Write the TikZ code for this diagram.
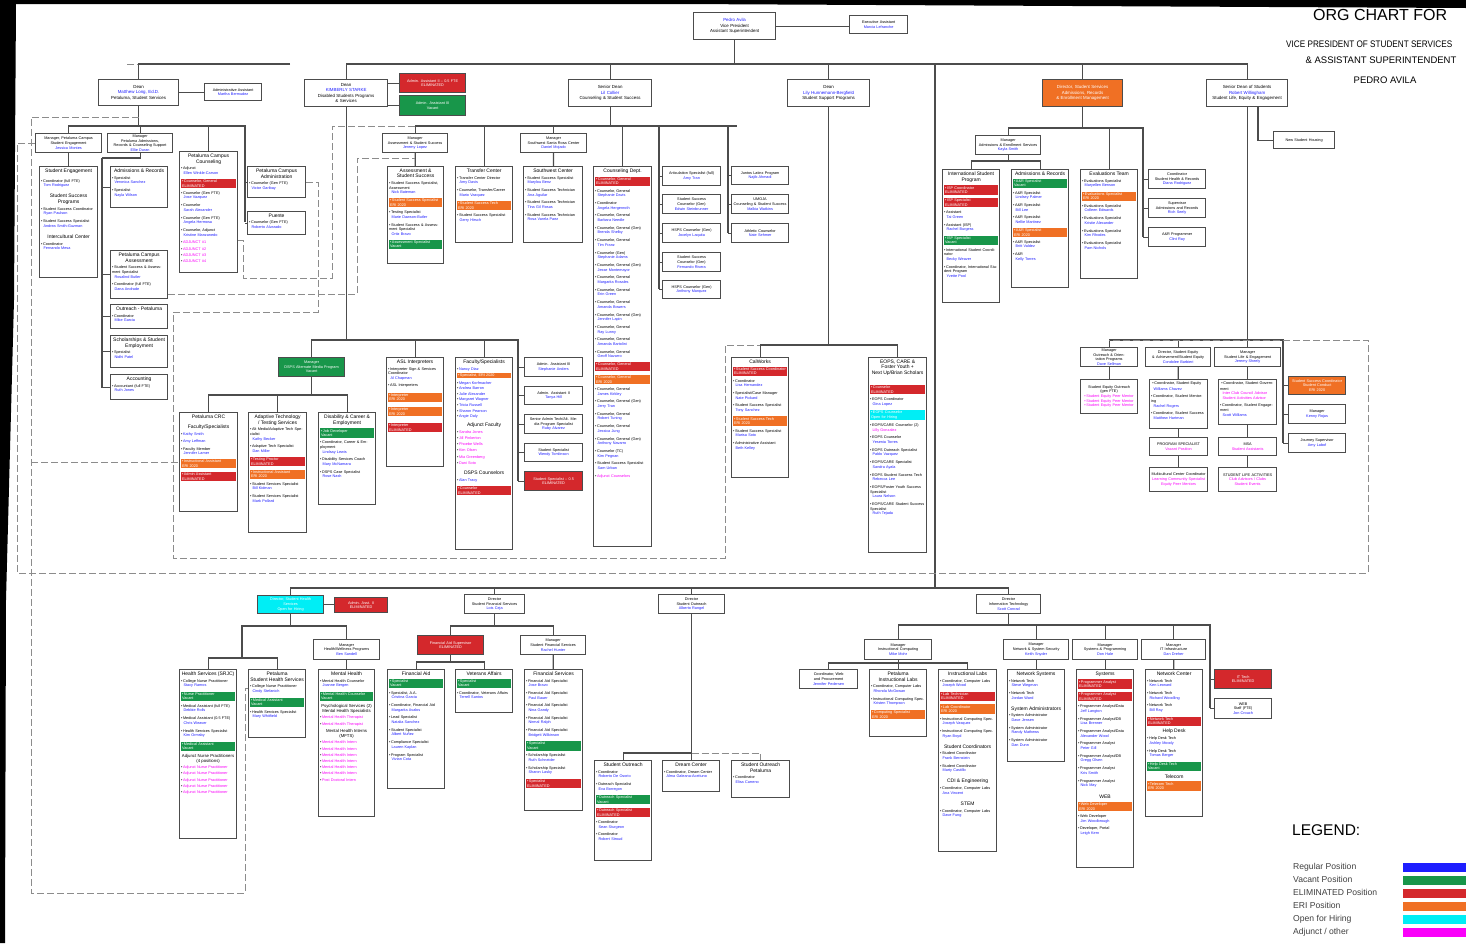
\documentclass[tikz,border=0pt]{standalone}
\usepackage{fontspec}
\setmainfont{Liberation Sans}
\usepackage{xcolor}
\usepackage{graphicx}
\definecolor{nblue}{RGB}{30,30,255}
\definecolor{cred}{RGB}{212,40,44}
\definecolor{cgreen}{RGB}{24,150,74}
\definecolor{corange}{RGB}{240,112,36}
\definecolor{ccyan}{RGB}{0,238,245}
\definecolor{cmag}{RGB}{250,0,250}

\newcommand\nm[1]{{\color{nblue}#1}}
\newcommand\mg[1]{{\color{cmag}#1}}
\newcommand\ttl[1]{{\centering\fontsize{5}{5.8}\selectfont #1\par}\vspace{2.2pt}}
\newcommand\subttl[1]{{\centering\fontsize{4.3}{5}\selectfont #1\par}\vspace{1.6pt}}
\newcommand\itm[2]{\textbullet\,#1\\\hspace*{2.5pt}\nm{#2}\par\vspace{3.2pt}}
\newcommand\adjl[1]{\textbullet\,\mg{#1}\par\vspace{1.6pt}}
\newcommand\cstrip[2]{{\setlength\fboxsep{0.9pt}\colorbox{#1}{\parbox{\dimexpr\linewidth-1.8pt\relax}{\color{white}\textbullet\,#2}}\par}\vspace{2.6pt}}

% box with centred text, corners in pixels
\newcommand\orgbox[7][]{%
  \pgfmathsetmacro\bw{#5-#3}\pgfmathsetmacro\bh{#6-#4}\pgfmathsetmacro\tw{#5-#3-3}%
  \node[box,#1,minimum width=\bw pt,minimum height=\bh pt,text width=\tw pt,align=center] (#2) at (#3,#4) {#7};}
% box with a list, text from the top
\newcommand\listbox[7][]{%
  \pgfmathsetmacro\bw{#5-#3}\pgfmathsetmacro\bh{#6-#4}\pgfmathsetmacro\tw{#5-#3-3}%
  \node[box,#1,minimum width=\bw pt,minimum height=\bh pt] (#2) at (#3,#4) {};
  \node[listtext,text width=\tw pt] (#2-t) at (#2.north) {#7};}

\begin{document}
\begin{tikzpicture}[x=1pt,y=-1pt,
  box/.style={draw=black!70, line width=1.2pt, fill=white, inner sep=0pt, anchor=north west,
    font=\fontsize{3.8}{4.6}\selectfont},
  listtext/.style={anchor=north, inner xsep=0pt, inner ysep=2.5pt, align=left,
    font=\fontsize{3.8}{4.6}\selectfont},
  link/.style={draw=black!70, line width=1.2pt},
  dlink/.style={draw=black!45, line width=0.8pt, dash pattern=on 7pt off 3pt},
  red/.style={fill=cred, text=white},
  green/.style={fill=cgreen, text=white},
  orange/.style={fill=corange, text=white},
  cyan/.style={fill=ccyan, text=white},
  head/.style={font=\fontsize{4.4}{5.6}\selectfont}]
\useasboundingbox (0,0) rectangle (1466,943);
\fill[white] (0,0) rectangle (1466,943);
\fill[black] (0,0) -- (1466,0) -- (1466,8) -- (680,4) -- (16,4) -- (14,300) -- (6,600) -- (5,943) -- (0,943) -- cycle;

% title and legend
\node[anchor=north west, inner sep=0pt, font=\fontsize{16}{16}\selectfont] (title) at (1313,9) {ORG CHART FOR};
\node[anchor=north west, inner sep=0pt, font=\fontsize{9.5}{9.5}\selectfont] (sub1) at (1286,41) {\scalebox{0.86}[1]{VICE PRESIDENT OF STUDENT SERVICES}};
\node[anchor=north, inner sep=0pt, font=\fontsize{9.5}{9.5}\selectfont] (sub2) at (1381,57) {\& ASSISTANT SUPERINTENDENT};
\node[anchor=north, inner sep=0pt, font=\fontsize{9.5}{9.5}\selectfont] (sub3) at (1385,77) {PEDRO AVILA};
\node[anchor=north west, inner sep=0pt, font=\fontsize{15.5}{15.5}\selectfont] (legend) at (1292,824) {LEGEND:};
\foreach \t/\c/\y [count=\i] in {Regular Position/nblue/863, Vacant Position/cgreen/876,
    ELIMINATED Position/cred/889, ERI Position/corange/902, Open for Hiring/ccyan/915, {Adjunct / other}/cmag/928} {
  \node[anchor=north west, inner sep=0pt, font=\fontsize{8.6}{8.6}\selectfont, text=black!75] (lt\i) at (1293,\y) {\t};
  \node[anchor=north west, inner sep=0pt, fill=\c, minimum width=64pt, minimum height=8.5pt] (lg\i) at (1403,\y) {};
}

% top
\orgbox[head]{vp}{693}{12}{775}{39}{\nm{Pedro Avila}\\Vice President\\Assistant Superintendent}
\orgbox{exec}{849}{15}{907}{33}{Executive Assistant\\\nm{Marcia Lefranche}}
\orgbox[head]{dpet}{98}{79}{178}{105}{Dean\\\nm{Matthew Long, Ed.D.}\\Petaluma, Student Services}
\orgbox{dpetaa}{204}{83}{261}{100}{Administrative Assistant\\\nm{Martha Bermudez}}
\orgbox[head]{dsps}{304}{79}{387}{106}{Dean\\\nm{KIMBERLY STARKE}\\Disabled Students Programs\\\& Services}
\orgbox[red]{dspsr}{399}{73}{465}{92}{Admin. Assistant II -- 0.5 FTE\\ELIMINATED}
\orgbox[green]{dspsg}{399}{95}{465}{115}{Admin. Assistant III\\Vacant}
\orgbox[head]{sdean}{568}{79}{651}{106}{Senior Dean\\\nm{Lil Collier}\\Counseling \& Student Success}
\orgbox[head]{dssp}{787}{79}{869}{106}{Dean\\\nm{Lily Hunnemann-Bergfield}\\Student Support Programs}
\orgbox[orange,head]{dirar}{1042}{79}{1122}{106}{Director, Student Services\\Admissions, Records\\\& Enrollment Management}
\orgbox[head]{sdos}{1206}{79}{1287}{106}{Senior Dean of Students\\\nm{Robert Willingham}\\Student Life, Equity \& Engagement}
\orgbox{nsh}{1273}{131}{1334}{148}{New Student Housing}

% Petaluma
\orgbox{mse}{35}{133}{101}{152}{Manager, Petaluma Campus\\Student Engagement\\\nm{Jessica Montes}}
\orgbox{mpar}{107}{133}{172}{152}{Manager\\Petaluma Admissions, Records \& Counseling Support\\\nm{Ellie Duran}}
\listbox{pse}{39}{166}{97}{277}{\ttl{Student Engagement}\vspace{3pt}
  \itm{Coordinator (full FTE)}{Tom Rodriguez}\vspace{2pt}
  \ttl{Student Success\\Programs}
  \itm{Student Success Coordinator}{Ryan Paulson}
  \itm{Student Success Specialist}{Andrea Smith-Guzman}\vspace{2pt}
  \ttl{Intercultural Center}
  \itm{Coordinator}{Fernando Mesa}}
\listbox{par}{110}{166}{167}{207}{\ttl{Admissions \& Records}
  \itm{Specialist}{Veronica Sanchez}
  \itm{Specialist}{Nayla Wilson}}
\listbox{pca}{110}{250}{167}{298}{\ttl{Petaluma Campus\\Assessment}
  \itm{Student Success \& Assessment Specialist}{Rosalind Butler}
  \itm{Coordinator (full FTE)}{Dana Andrade}}
\listbox{pop}{110}{304}{167}{328}{\ttl{Outreach - Petaluma}
  \itm{Coordinator}{Mike Garcia}}
\listbox{psc}{110}{335}{167}{367}{\ttl{Scholarships \& Student Employment}
  \itm{Specialist}{Nidhi Patel}}
\listbox{pacc}{110}{374}{167}{399}{\ttl{Accounting}
  \itm{Accountant (full FTE)}{Ruth Jones}}
\listbox{pcc}{179}{151}{237}{272}{\ttl{Petaluma Campus\\Counseling}
  \itm{Adjunct}{Ellen Winkle-Carson}
  \cstrip{cred}{Counselor, General\\ELIMINATED}
  \itm{Counselor (Gen FTE)}{Jose Vazquez}
  \itm{Counselor}{Sarah Alexander}
  \itm{Counselor (Gen FTE)}{Angela Hermosa}
  \itm{Counselor, Adjunct}{Kristine Manzanedo}
  \adjl{ADJUNCT \#1}\adjl{ADJUNCT \#2}\adjl{ADJUNCT \#3}\adjl{ADJUNCT \#4}}
\listbox{pcadm}{247}{166}{305}{197}{\ttl{Petaluma Campus\\Administration}
  \itm{Counselor (Gen FTE)}{Victor Garibay}}
\listbox{ppu}{247}{211}{305}{234}{\ttl{Puente}
  \itm{Counselor (Gen FTE)}{Roberto Alvarado}}

% Counseling & Student Success
\orgbox{asm}{382}{133}{447}{152}{Manager\\Assessment \& Student Success\\\nm{Jeremy Lopez}}
\listbox{asss}{387}{166}{443}{263}{\ttl{Assessment \&\\Student Success}
  \itm{Student Success Specialist, Assessment}{Nick Bateman}
  \cstrip{corange}{Student Success Specialist\\ERI 2020}
  \itm{Testing Specialist}{Marie Dawson-Butler}
  \itm{Student Success \& Assessment Specialist}{Ortiz Bravo}
  \cstrip{cgreen}{Assessment Specialist\\Vacant}}
\listbox{tc}{455}{166}{512}{242}{\ttl{Transfer Center}
  \itm{Transfer Center Director}{Amy Davis}
  \itm{Counselor, Transfer/Career}{Mario Vazquez}
  \cstrip{corange}{Student Success Tech\\ERI 2020}
  \itm{Student Success Specialist}{Gerry Hirsch}}
\orgbox{swm}{520}{133}{586}{152}{Manager\\Southwest Santa Rosa Center\\\nm{Daniel Mojado}}
\listbox{swc}{523}{166}{582}{242}{\ttl{Southwest Center}
  \itm{Student Success Specialist}{Marylou Benz}
  \itm{Student Success Technician}{Ana Aguilar}
  \itm{Student Success Technician}{Tina Gil Rosas}
  \itm{Student Success Technician}{Rosa Varela Paez}}
\listbox{cd}{593}{166}{651}{546}{\ttl{Counseling Dept.}
  \cstrip{cred}{Counselor, General\\ELIMINATED}
  \itm{Counselor, General}{Stephanie Davis}
  \itm{Coordinator}{Angela Hergenroth}
  \itm{Counselor, General}{Barbara Needle}
  \itm{Counselor, General (Gen)}{Brenda Shelby}
  \itm{Counselor, General}{Tim Franz}
  \itm{Counselor (Gen)}{Stephanie Adams}
  \itm{Counselor, General (Gen)}{Jesse Montemayor}
  \itm{Counselor, General}{Margarita Rosales}
  \itm{Counselor, General}{Erin Green}
  \itm{Counselor, General}{Amanda Bowers}
  \itm{Counselor, General (Gen)}{Jennifer Lapin}
  \itm{Counselor, General}{Ray Lunny}
  \itm{Counselor, General}{Amanda Bartolini}
  \itm{Counselor, General}{Geoff Navarro}
  \cstrip{cred}{Counselor, General\\ELIMINATED}
  \cstrip{corange}{Counselor, General\\ERI 2020}
  \itm{Counselor, General}{James Kirkley}
  \itm{Counselor, General (Gen)}{Jerry Tran}
  \itm{Counselor, General}{Robert Tuning}
  \itm{Counselor, General}{Jessica Jung}
  \itm{Counselor, General (Gen)}{Anthony Navarro}
  \itm{Counselor (TC)}{Kim Pegnan}
  \itm{Student Success Specialist}{Sam Urban}
  \adjl{Adjunct Counselors}}
\orgbox{ar1}{662}{166}{720}{185}{Articulation Specialist (full)\\\nm{Amy Tran}}
\orgbox{ar2}{662}{194}{720}{213}{Student Success Counselor (Gen)\\\nm{Edwin Steinbrunner}}
\orgbox{ar3}{662}{223}{720}{242}{HSPS Counselor (Gen)\\\nm{Jocelyn Laquita}}
\orgbox{ar4}{662}{252}{720}{271}{Student Success Counselor (Gen)\\\nm{Fernando Rivera}}
\orgbox{ar5}{662}{280}{720}{298}{HSPS Counselor (Gen)\\\nm{Anthony Marquez}}
\orgbox{ju1}{731}{166}{788}{184}{Juntos Latinx Program\\\nm{Najib Ahmadi}}
\orgbox{ju2}{731}{194}{788}{213}{UMOJA\\Counseling \& Student Success\\\nm{Malkia Watkins}}
\orgbox{ju3}{731}{223}{788}{242}{Athletic Counselor\\\nm{Nate Sehmer}}

% DSPS
\orgbox[green]{dspsm}{278}{357}{344}{376}{Manager\\DSPS Alternate Media Program\\Vacant}
\listbox{crc}{179}{412}{237}{511}{\ttl{Petaluma CRC}\vspace{2pt}
  \ttl{Faculty/Specialists}
  \textbullet\,\nm{Kathy Smith}\par\vspace{3pt}
  \textbullet\,\nm{Amy Leffman}\par\vspace{3pt}
  \itm{Faculty Member}{Jennifer Lamer}
  \cstrip{corange}{Instructional Assistant\\ERI 2020}
  \cstrip{cred}{Admin Assistant\\ELIMINATED}}
\listbox{atc}{248}{412}{306}{532}{\ttl{Adaptive Technology\\/ Testing Services}
  \itm{Alt Media/Adaptive Tech Specialist}{Kathy Becker}
  \itm{Adaptive Tech Specialist}{Dan Miller}
  \cstrip{cred}{Testing Proctor\\ELIMINATED}
  \cstrip{corange}{Instructional Assistant\\ERI 2020}
  \itm{Student Services Specialist}{Bill Kidman}
  \itm{Student Services Specialist}{Mark Pollard}}
\listbox{dce}{318}{412}{375}{504}{\ttl{Disability \& Career \&\\Employment}
  \cstrip{cgreen}{Job Developer\\Vacant}
  \itm{Coordinator, Career \& Employment}{Lindsay Lewis}
  \itm{Disability Services Coach}{Mary McNamara}
  \itm{DSPS Case Specialist}{Rose Nash}}
\listbox{asl}{386}{357}{443}{466}{\ttl{ASL Interpreters}
  \itm{Interpreter Sign \& Services Coordinator}{Al Chapman}
  \textbullet\,ASL Interpreters\par\vspace{4pt}
  \cstrip{corange}{Interpreter\\ERI 2020}\vspace{2pt}
  \cstrip{corange}{Interpreter\\ERI 2020}\vspace{3pt}
  \cstrip{cred}{Interpreter\\ELIMINATED}}
\listbox{fac}{455}{357}{512}{549}{\ttl{Faculty/Specialists}
  \textbullet\,\nm{Nancy Diaz}\par\vspace{1pt}
  \cstrip{corange}{Specialist, ERI 2020}
  \textbullet\,\nm{Megan Korfmacher}\par\vspace{1pt}\textbullet\,\nm{Andrea Barron}\par\vspace{1pt}
  \textbullet\,\nm{Julie Alexander}\par\vspace{1pt}\textbullet\,\nm{Margaret Wagner}\par\vspace{1pt}
  \textbullet\,\nm{Tricia Russell}\par\vspace{1pt}\textbullet\,\nm{Sharon Pearson}\par\vspace{1pt}
  \textbullet\,\nm{Angie Daly}\par\vspace{3pt}
  \ttl{Adjunct Faculty}
  \adjl{Sandra Jones}\adjl{Jill Pinkerton}\adjl{Phoebe Wells}\adjl{Kim Olsen}\adjl{Mia Greenberg}\adjl{Dani Soto}\vspace{3pt}
  \ttl{DSPS Counselors}
  \textbullet\,\nm{Alan Tracy}\par\vspace{3pt}
  \cstrip{cred}{Counselor\\ELIMINATED}}
\orgbox{aa1}{524}{357}{582}{376}{Admin. Assistant III\\\nm{Stephanie Anders}}
\orgbox{aa2}{524}{386}{582}{404}{Admin. Assistant II\\\nm{Tanya Hill}}
\orgbox{aa3}{524}{414}{582}{433}{Senior Admin Tech/Alt. Media Program Specialist\\\nm{Ruby Alvarez}}
\orgbox{aa4}{524}{443}{582}{461}{Student Specialist\\\nm{Wendy Tomlinson}}
\orgbox[red]{aa5}{524}{471}{582}{490}{Student Specialist -- 0.5\\ELIMINATED}

% Student Support Programs
\listbox{cw}{731}{357}{788}{477}{\ttl{CalWorks}
  \cstrip{cred}{Student Success Coordinator\\ELIMINATED}
  \itm{Coordinator}{Lisa Hernandez}
  \itm{Specialist/Case Manager}{Nate Pickard}
  \itm{Student Success Specialist}{Tony Sanchez}
  \cstrip{corange}{Student Success Tech\\ERI 2020}
  \itm{Student Success Specialist}{Marisa Soto}
  \itm{Administrative Assistant}{Beth Kelley}}
\listbox{eops}{868}{357}{926}{552}{\ttl{EOPS, CARE \&\\Foster Youth +\\Next Up/Brian Scholars}\vspace{6pt}
  \cstrip{cred}{Counselor\\ELIMINATED}
  \itm{EOPS Coordinator}{Gina Lopez}
  \cstrip{ccyan}{EOPS Counselor\\Open for Hiring}
  \textbullet\,EOPS/CARE Counselor (2)\\\hspace*{2.5pt}\mg{Lilly Gonzalez}\par\vspace{3.2pt}
  \itm{EOPS Counselor}{Yesenia Torres}
  \itm{EOPS Outreach Specialist}{Pablo Vazquez}
  \itm{EOPS/CARE Specialist}{Sandra Ayala}
  \itm{EOPS Student Success Tech}{Rebecca Lee}
  \itm{EOPS/Foster Youth Success Specialist}{Laura Nelson}
  \itm{EOPS/CARE Student Success Specialist}{Ruth Tejada}}

% Admissions, Records & Enrollment
\orgbox{amgr}{975}{135}{1040}{154}{Manager\\Admissions \& Enrollment Services\\\nm{Kayla Smith}}
\listbox{isp}{942}{169}{999}{302}{\ttl{International Student\\Program}
  \cstrip{cred}{ISP Coordinator\\ELIMINATED}
  \cstrip{cred}{ISP Specialist\\ELIMINATED}
  \itm{Assistant}{Tai Green}
  \itm{Assistant (ISP)}{Rachel Burgess}
  \cstrip{cgreen}{ISP Specialist\\Vacant}
  \itm{International Student Coordinator}{Becky Weaver}
  \itm{Coordinator, International Student Program}{Yvette Pool}}
\listbox{arx}{1011}{169}{1068}{287}{\ttl{Admissions \& Records}
  \cstrip{cgreen}{A\&R Specialist\\Vacant}
  \itm{A\&R Specialist}{Lindsey Palmer}
  \itm{A\&R Specialist}{Bill Lee}
  \itm{A\&R Specialist}{Nellie Martinez}
  \cstrip{corange}{A\&R Specialist\\ERI 2020}
  \itm{A\&R Specialist}{Britt Valdez}
  \itm{A\&R}{Kelly Torres}}
\listbox{ev}{1080}{169}{1137}{278}{\ttl{Evaluations Team}
  \itm{Evaluations Specialist}{Maryellen Benson}
  \cstrip{corange}{Evaluations Specialist\\ERI 2020}
  \itm{Evaluations Specialist}{Colleen Edwards}
  \itm{Evaluations Specialist}{Kristie Alexander}
  \itm{Evaluations Specialist}{Kim Rhodes}
  \itm{Evaluations Specialist}{Pam Nichols}}
\orgbox{ah1}{1148}{169}{1205}{188}{Coordinator\\Student Health \& Records\\\nm{Diana Rodriguez}}
\orgbox{ah2}{1148}{198}{1205}{217}{Supervisor\\Admissions and Records\\\nm{Rich Seely}}
\orgbox{ah3}{1148}{227}{1205}{246}{A\&R Programmer\\\nm{Clint Ray}}

% Student Life, Equity & Engagement
\orgbox{slm1}{1080}{347}{1137}{366}{Manager\\Outreach \& Orientation Programs\\\nm{Dave Sellman}}
\orgbox{sl1a}{1080}{379}{1137}{413}{Student Equity Outreach\\(gen FTE)\\\mg{\textbullet\,Student Equity Peer Mentor}\\\mg{\textbullet\,Student Equity Peer Mentor}\\\mg{\textbullet\,Student Equity Peer Mentor}}
\orgbox{slm2}{1145}{347}{1210}{366}{Director, Student Equity\\\& Achievement/Student Equity\\\nm{Condolee Barbieri}}
\listbox{sl2a}{1149}{379}{1207}{428}{\vspace{1pt}
  \itm{Coordinator, Student Equity}{Williams Chavez}
  \itm{Coordinator, Student Mentoring}{Rachel Rogers}
  \itm{Coordinator, Student Success}{Matthew Hartman}}
\orgbox{sl2b}{1149}{437}{1207}{455}{PROGRAM SPECIALIST\\\mg{Vacant Position}}
\orgbox{sl2c}{1149}{467}{1207}{491}{Multicultural Center Coordinator\\\mg{Learning Community Specialist}\\\mg{Equity Peer Mentors}}
\orgbox{slm3}{1214}{347}{1280}{366}{Manager\\Student Life \& Engagement\\\nm{Jeremy Sheely}}
\listbox{sl3a}{1218}{379}{1276}{424}{\vspace{1pt}
  \textbullet\,Coordinator, Student Government\\\hspace*{2.5pt}\mg{Inter Club Council Advisor}\\\hspace*{2.5pt}\mg{Student Activities Advisor}\par\vspace{3pt}
  \itm{Coordinator, Student Engagement}{Scott Williams}}
\orgbox{sl3b}{1218}{437}{1276}{455}{MSA\\\mg{Student Assistants}}
\orgbox{sl3c}{1218}{467}{1276}{491}{STUDENT LIFE ACTIVITIES\\\mg{Club Advisors / Clubs}\\\mg{Student Events}}
\orgbox[orange]{slr1}{1288}{376}{1345}{394}{Student Success Coordinator\\Student Conduct\\ERI 2020}
\orgbox{slr2}{1288}{404}{1345}{423}{Manager\\\nm{Kenny Rojas}}
\orgbox{slr3}{1288}{433}{1345}{452}{Journey Supervisor\\\nm{Amy Labof}}

% bottom row
\orgbox[cyan]{hw}{257}{595}{323}{613}{Director, Student Health\\Services\\Open for Hiring}
\orgbox[red]{hwr}{334}{597}{387}{612}{Admin. Asst. II\\ELIMINATED}
\orgbox{hmgr}{313}{639}{379}{659}{Manager\\Health/Wellness Programs\\\nm{Ben Sandell}}
\listbox{hs}{179}{669}{236}{838}{\ttl{Health Services (SRJC)}
  \itm{College Nurse Practitioner}{Stacy Ramos}
  \cstrip{cgreen}{Nurse Practitioner\\Vacant}
  \itm{Medical Assistant (full FTE)}{Debbie Rolls}
  \itm{Medical Assistant (0.5 FTE)}{Chris Weaver}
  \itm{Health Services Specialist}{Kim Ormsby}
  \cstrip{cgreen}{Medical Assistant\\Vacant}
  \subttl{Adjunct Nurse Practitioners (4 positions)}
  \adjl{Adjunct Nurse Practitioner}\adjl{Adjunct Nurse Practitioner}\adjl{Adjunct Nurse Practitioner}\adjl{Adjunct Nurse Practitioner}\adjl{Adjunct Nurse Practitioner}}
\listbox{psh}{248}{669}{305}{737}{\ttl{Petaluma\\Student Health Services}
  \itm{College Nurse Practitioner}{Cindy Stefanich}
  \cstrip{cgreen}{Medical Assistant\\Vacant}
  \itm{Health Services Specialist}{Mary Whitfield}}
\listbox{mh}{318}{669}{374}{816}{\ttl{Mental Health}
  \itm{Mental Health Counselor}{Joanne Bergen}
  \cstrip{cgreen}{Mental Health Counselor\\Vacant}
  \subttl{Psychological Services (2)\\Mental Health Specialists}
  \adjl{Mental Health Therapist}\adjl{Mental Health Therapist}\vspace{1pt}
  \subttl{Mental Health Interns (MFTS)}
  \adjl{Mental Health Intern}\adjl{Mental Health Intern}\adjl{Mental Health Intern}\adjl{Mental Health Intern}\adjl{Mental Health Intern}\adjl{Mental Health Intern}\adjl{Post Doctoral Intern}}
\orgbox{shs}{464}{594}{524}{613}{Director\\Student Financial Services\\\nm{Lois Ceja}}
\orgbox[red]{fr}{417}{635}{483}{654}{Financial Aid Supervisor\\ELIMINATED}
\orgbox{fm}{520}{635}{585}{654}{Manager\\Student Financial Services\\\nm{Rachel Hunter}}
\listbox{fa}{387}{669}{444}{788}{\ttl{Financial Aid}
  \cstrip{cgreen}{Specialist\\Vacant}
  \itm{Specialist, A.A.}{Cristina Garcia}
  \itm{Coordinator, Financial Aid}{Margarita Avalos}
  \itm{Lead Specialist}{Natalia Sanchez}
  \itm{Student Specialist}{Albert Nuñez}
  \itm{Compliance Specialist}{Lauren Kaplan}
  \itm{Program Specialist}{Vivian Cota}}
\listbox{va}{455}{669}{512}{712}{\ttl{Veterans Affairs}
  \cstrip{cgreen}{Specialist\\Vacant}
  \itm{Coordinator, Veterans Affairs}{Terrell Santos}}
\listbox{fs}{524}{669}{582}{810}{\ttl{Financial Services}
  \itm{Financial Aid Specialist}{Jose Bravo}
  \itm{Financial Aid Specialist}{Paul Bauer}
  \itm{Financial Aid Specialist}{Nina Gandy}
  \itm{Financial Aid Specialist}{Nirmal Ralph}
  \itm{Financial Aid Specialist}{Bridgett Wilkinson}
  \cstrip{cgreen}{Specialist\\Vacant}
  \itm{Scholarship Specialist}{Ruth Schneider}
  \itm{Scholarship Specialist}{Sharon Lasky}
  \cstrip{cred}{Specialist\\ELIMINATED}}
\orgbox{dso}{658}{594}{724}{613}{Director\\Student Outreach\\\nm{Alberto Rangel}}
\listbox{so}{594}{760}{651}{860}{\ttl{Student Outreach}
  \itm{Coordinator}{Roberto De Osorio}
  \itm{Outreach Specialist}{Eva Borregon}
  \cstrip{cgreen}{Outreach Specialist\\Vacant}
  \cstrip{cred}{Outreach Specialist\\ELIMINATED}
  \itm{Coordinator}{Sean Sturgeon}
  \itm{Coordinator}{Robert Stroud}}
\listbox{dc}{662}{760}{719}{791}{\ttl{Dream Center}
  \itm{Coordinator, Dream Center}{Alma Galeana-Aceituno}}
\listbox{sop}{731}{760}{789}{797}{\ttl{Student Outreach\\Petaluma}
  \itm{Coordinator}{Elisa Carreno}}
\orgbox{dit}{976}{594}{1040}{613}{Director\\Information Technology\\\nm{Scott Conrad}}
\orgbox{mic}{864}{639}{931}{659}{Manager\\Instructional Computing\\\nm{Mike Mohr}}
\orgbox{cwp}{799}{669}{857}{688}{Coordinator, Web and Procurement\\\nm{Jennifer Pedersen}}
\listbox{pil}{869}{669}{926}{736}{\ttl{Petaluma\\Instructional Labs}
  \itm{Coordinator, Computer Labs}{Rhonda McGowan}
  \itm{Instructional Computing Spec.}{Kristen Thompson}
  \cstrip{corange}{Computing Specialist\\ERI 2020}}
\listbox{il}{938}{669}{996}{851}{\ttl{Instructional Labs}
  \itm{Coordinator, Computer Labs}{Joseph Wood}
  \cstrip{cred}{Lab Technician\\ELIMINATED}
  \cstrip{corange}{Lab Coordinator\\ERI 2020}
  \itm{Instructional Computing Spec.}{Joseph Vasquez}
  \itm{Instructional Computing Spec.}{Ryan Boyd}\vspace{2pt}
  \ttl{Student Coordinators}
  \itm{Student Coordinator}{Frank Bernstein}
  \itm{Student Coordinator}{Marty Castillo}\vspace{2pt}
  \ttl{CDI \& Engineering}
  \itm{Coordinator, Computer Labs}{Ana Vincent}\vspace{2pt}
  \ttl{STEM}
  \itm{Coordinator, Computer Labs}{Dave Fung}}
\orgbox{mns}{1003}{639}{1068}{659}{Manager\\Network \& System Security\\\nm{Keith Snyder}}
\orgbox{msp}{1072}{639}{1137}{659}{Manager\\Systems \& Programming\\\nm{Don Hale}}
\orgbox{mit}{1141}{639}{1205}{659}{Manager\\IT Infrastructure\\\nm{Dan Dreher}}
\listbox{ns}{1007}{669}{1064}{761}{\ttl{Network Systems}
  \itm{Network Tech}{Steve Wegman}
  \itm{Network Tech}{Jordan Ward}\vspace{2pt}
  \ttl{System Administrators}
  \itm{System Administrator}{Dave Jensen}
  \itm{System Administrator}{Randy Mathews}
  \itm{System Administrator}{Dan Dunn}}
\listbox{sys}{1076}{669}{1133}{867}{\ttl{Systems}
  \cstrip{cred}{Programmer Analyst\\ELIMINATED}
  \cstrip{cred}{Programmer Analyst\\ELIMINATED}
  \itm{Programmer Analyst/Data}{Jeff Langton}
  \itm{Programmer Analyst/DB}{Lisa Brenner}
  \itm{Programmer Analyst/Data}{Alexander Wood}
  \itm{Programmer Analyst}{Peter Gill}
  \itm{Programmer Analyst/DB}{Gregg Olsen}
  \itm{Programmer Analyst}{Kris Smith}
  \itm{Programmer Analyst}{Nick May}\vspace{3pt}
  \ttl{WEB}
  \cstrip{corange}{Web Developer\\ERI 2020}
  \itm{Web Developer}{Jim Woodbrough}
  \itm{Developer, Portal}{Leigh Kern}}
\listbox{ni}{1145}{669}{1202}{816}{\ttl{Network Center}
  \itm{Network Tech}{Ken Leonard}
  \itm{Network Tech}{Richard Woodling}
  \itm{Network Tech}{Bill Ray}
  \cstrip{cred}{Network Tech\\ELIMINATED}
  \ttl{Help Desk}
  \itm{Help Desk Tech}{Ashley Moody}
  \itm{Help Desk Tech}{Tomas Berger}
  \cstrip{cgreen}{Help Desk Tech\\Vacant}
  \ttl{Telecom}
  \cstrip{corange}{Telecom Tech\\ERI 2020}}
\orgbox[red]{itr}{1214}{669}{1271}{688}{IT Tech\\ELIMINATED}
\orgbox{web}{1214}{698}{1271}{718}{WEB\\Staff (FTE)\\\nm{Jon Crouch}}

% solid connectors
\draw[link] (vp.east) -- (vp.east -| exec.west);
\draw[link] (vp.south) -- (vp.south |- 0,64);
\draw[dlink] (127,64) -- (290,64);
\draw[link] (290,64) -| (dpet.north);
\foreach \c in {dsps,sdean,dssp,dirar,sdos} \draw[link] (vp.south |- 0,64) -| (\c.north);
\draw[link] (dpet.east) -- (dpet.east -| dpetaa.west);
\draw[link] (dsps.east |- dspsr.west) -- (dspsr.west);
\draw[link] (dsps.east |- dspsg.west) -- (dspsg.west);
\coordinate (hub) at (935,588);
\draw[link] (935,64) -- (hub);
\foreach \c in {hw,shs,dso,dit} \draw[link] (hub) -| (\c.north);

% Petaluma
\draw[link] (dpet.south) -- (dpet.south |- 0,126);
\foreach \c in {mse,mpar,pcc} \draw[link] (dpet.south |- 0,126) -| (\c.north);
\draw[link] (dpet.south |- 0,126) -| (245,222);
\foreach \c in {pcadm,ppu} \draw[link] (245,0 |- \c.west) -- (\c.west);
\draw[link] (mse) -- (pse);
\draw[link] (mpar.south) |- (102,158);
\foreach \c in {par,pca,pop,psc,pacc} \draw[link] (102,158) |- (\c.west);

% Counseling & Student Success
\draw[link] (sdean.south) -- (sdean.south |- 0,126);
\foreach \c in {asm,tc,swm,cd} \draw[link] (sdean.south |- 0,126) -| (\c.north);
\draw[link] (sdean.south |- 0,126) -| (659,289);
\draw[link] (sdean.south |- 0,126) -| (728,233);
\draw[link] (728,126) -- (737,126);
\foreach \c in {ar1,ar2,ar3,ar4,ar5} \draw[link] (659,0 |- \c.west) -- (\c.west);
\foreach \c in {ju1,ju2,ju3} \draw[link] (728,0 |- \c.west) -- (\c.west);
\draw[link] (asm) -- (asss);
\draw[link] (swm) -- (swc);

% DSPS
\draw[link] (dsps.south) -- (dsps.south |- 0,340);
\foreach \c in {dspsm,asl,fac} \draw[link] (dsps.south |- 0,340) -| (\c.north);
\draw[link] (dsps.south |- 0,340) -| (518,481);
\foreach \c in {aa1,aa2,aa3,aa4,aa5} \draw[link] (518,0 |- \c.west) -- (\c.west);
\draw[link] (dspsm.south) -- (dspsm.south |- 0,395);
\foreach \c in {crc,atc,dce} \draw[link] (dspsm.south |- 0,395) -| (\c.north);

% Student Support Programs
\draw[link] (dssp.south) -- (dssp.south |- 0,345);
\foreach \c in {cw,eops} \draw[link] (dssp.south |- 0,345) -| (\c.north);

% Admissions, Records & Enrollment
\draw[link] (dirar.south) -- (dirar.south |- 0,128);
\foreach \c in {amgr,ev} \draw[link] (dirar.south |- 0,128) -| (\c.north);
\draw[link] (dirar.south |- 0,128) -| (1143,237);
\foreach \c in {ah1,ah2,ah3} \draw[link] (1143,0 |- \c.west) -- (\c.west);
\draw[link] (amgr.south) -- (amgr.south |- 0,161);
\foreach \c in {isp,arx} \draw[link] (amgr.south |- 0,161) -| (\c.north);

% Student Life
\draw[link] (1258,0 |- sdos.south) |- (nsh.west);
\draw[link] (sdos.south) -- (sdos.south |- 0,340);
\foreach \c in {slm1,slm2,slm3} \draw[link] (sdos.south |- 0,340) -| (\c.north);
\draw[link] (sdos.south |- 0,340) -| (1283,443);
\foreach \c in {slr1,slr2,slr3} \draw[link] (1283,0 |- \c.west) -- (\c.west);
\draw[link] (slm1) -- (sl1a);
\draw[link] (slm2) -- (sl2a); \draw[link] (sl2a) -- (sl2b); \draw[link] (sl2b) -- (sl2c);
\draw[link] (slm3) -- (sl3a); \draw[link] (sl3a) -- (sl3b); \draw[link] (sl3b) -- (sl3c);

% bottom row
\draw[link] (hw.east) -- (hw.east -| hwr.west);
\draw[link] (hw.south) -- (hw.south |- 0,626);
\draw[link] (hw.south |- 0,626) -| (hmgr.north);
\draw[link] (hw.south |- 0,626) -| (242,658);
\foreach \c in {hs,psh} \draw[link] (242,658) -| (\c.north);
\draw[link] (hmgr) -- (mh);
\draw[link] (shs.south) -- (shs.south |- 0,626);
\foreach \c in {fr,fm} \draw[link] (shs.south |- 0,626) -| (\c.north);
\draw[link] (fr.south) -- (fr.south |- 0,662);
\foreach \c in {fa,va} \draw[link] (fr.south |- 0,662) -| (\c.north);
\draw[link] (fm) -- (fs);
\draw[link] (dso.south) -- (dso.south |- 0,753);
\foreach \c in {so,dc} \draw[link] (dso.south |- 0,753) -| (\c.north);
\draw[dlink] (dso.south |- 0,753) -| (sop.north);
\draw[link] (dit.south) -- (dit.south |- 0,625);
\foreach \c in {mic,mns,msp,mit} \draw[link] (dit.south |- 0,625) -| (\c.north);
\draw[link] (dit.south |- 0,625) -| (1210,708);
\foreach \c in {itr,web} \draw[link] (1210,0 |- \c.west) -- (\c.west);
\draw[link] (mic.south) -- (mic.south |- 0,663);
\foreach \c in {cwp,pil,il} \draw[link] (mic.south |- 0,663) -| (\c.north);
\draw[link] (mns) -- (ns);
\draw[link] (msp) -- (sys);
\draw[link] (mit) -- (ni);

% dashed links
\draw[dlink] (mse.west) -| (17,573) -| (1368,340) -- (slm1.north |- 0,340);
\draw[dlink] (dpet.south |- 0,117) -| (31,893) -| (245,688) -- (psh.west |- 0,688);
\draw[dlink] (31,0 |- crc.west) -- (crc.west);
\draw[dlink] (pcc.east |- 0,240) -| (243,278) -| (332,126) -- (asm.north |- 0,126);
\draw[dlink] (pcadm.east) -| (318,312) -| (173,558) -| (725,345) -- (cw.north |- 0,345);
\draw[dlink] (pca.east |- 0,294) -| (357,158) -- (asm.south |- 0,158);
\end{tikzpicture}
\end{document}
